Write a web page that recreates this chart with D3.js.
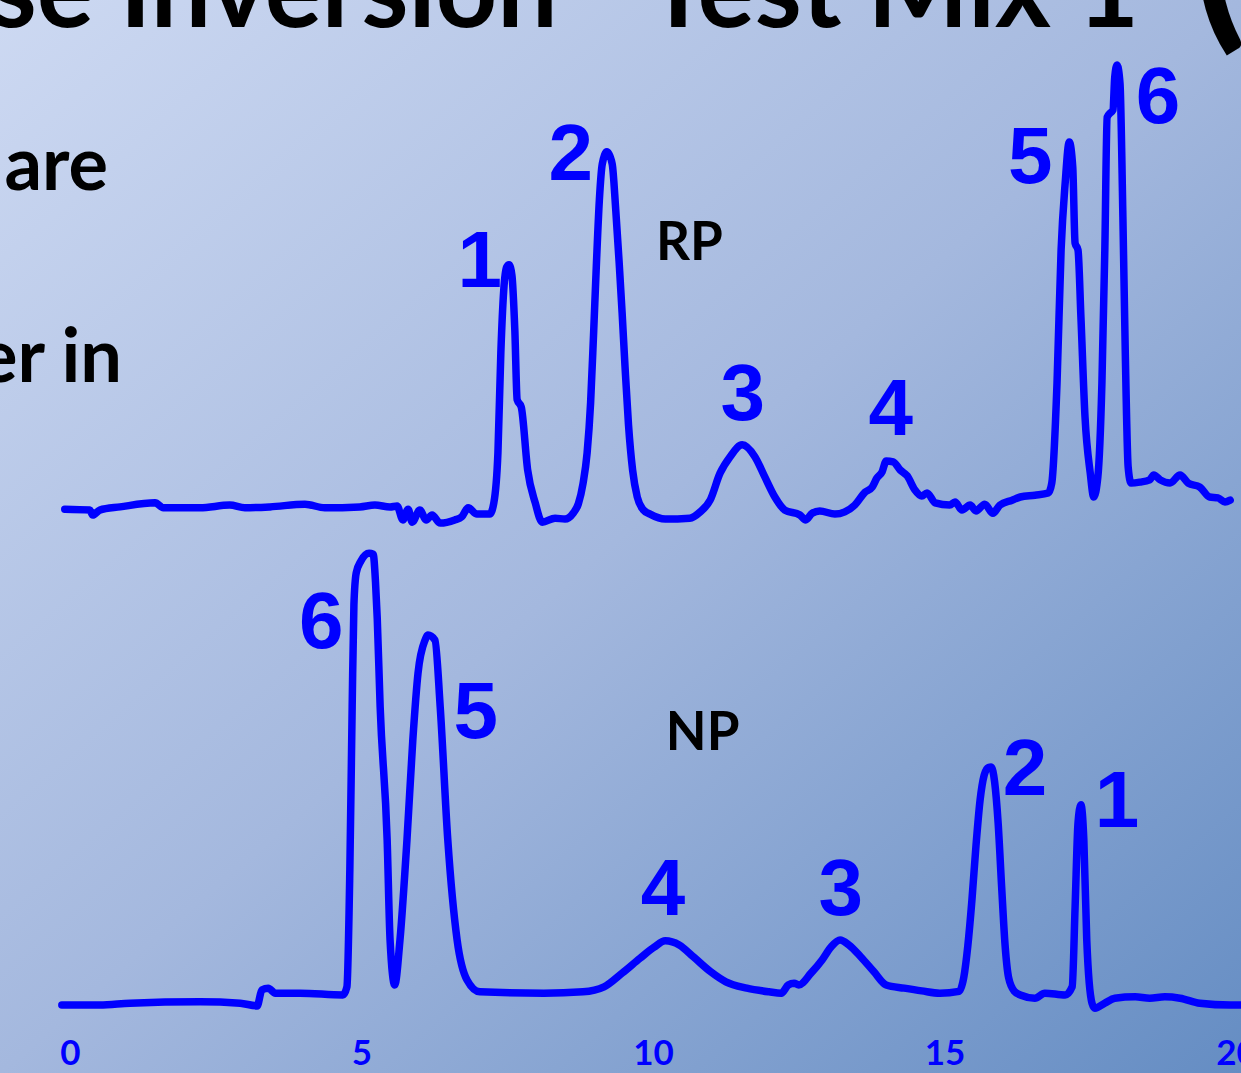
<!DOCTYPE html>
<html>
<meta charset="utf-8">
<style>
body { margin: 0; overflow: hidden; }
.trace { fill: none; stroke: #0000ff; stroke-width: 7.5; stroke-linejoin: round; stroke-linecap: round; }
.peak { font: bold 80px "Liberation Sans", Arial, sans-serif; fill: #0000ff; text-anchor: middle; }
.mode { font: bold 53px Lato, sans-serif; fill: #000; }
.slide { font: bold 74px Lato, sans-serif; fill: #000; text-anchor: end; }
.axis text { font: bold 35px Lato, sans-serif; fill: #0000ff; }
.axis path, .axis line { display: none; }
</style>
<body>
<div id="chart"></div>
<script src="https://d3js.org/d3.v7.min.js"></script>
<script>

// retention time (min), detector signal (% of tallest peak)
var rpTrace = [[-0.09,1.3],[0.34,1.1],[0.39,0],[0.51,1.1],[0.86,1.8],[1.46,2.7],[1.60,1.6],[2.23,1.6],
  [2.74,2.2],[3.00,1.6],[3.43,1.8],[4.03,2.4],[4.37,1.6],[4.97,1.8],[5.23,2.2],[5.49,1.8],[5.61,2.0],
  [5.71,-1.1],[5.80,1.3],[5.87,-1.6],[6.00,1.1],[6.11,-1.1],[6.21,0],[6.35,-1.8],[6.60,-1.1],[6.72,-0.4],
  [6.83,1.6],[6.98,0.2],[7.20,0.2],[7.27,2.7],[7.34,13.8],[7.39,36.0],[7.44,50.0],[7.49,55.1],[7.53,55.6],
  [7.58,53.3],[7.63,41.1],[7.67,25.6],[7.74,24.0],[7.85,10.0],[7.98,2.7],[8.10,-1.6],[8.32,-0.7],[8.49,-0.9],
  [8.63,0.4],[8.72,2.5],[8.80,7.0],[8.87,13.8],[8.93,25.0],[8.98,40.0],[9.03,56.0],[9.08,70.0],[9.13,78.0],
  [9.21,80.7],[9.30,78.0],[9.36,68.0],[9.42,56.0],[9.47,45.0],[9.52,33.0],[9.58,20.0],[9.65,10.0],[9.73,4.0],
  [9.83,1.2],[9.95,0.2],[10.21,-0.9],
  [10.63,-0.7],[10.81,0.7],[10.98,3.3],[11.15,9.3],[11.32,12.9],[11.53,15.6],[11.75,12.9],[11.92,8.4],
  [12.09,4.0],[12.26,1.1],[12.52,0],[12.62,-1.1],[12.73,0.4],[12.86,0.9],[13.12,0.2],[13.29,0.7],[13.46,2.2],
  [13.64,5.1],[13.76,6.2],[13.84,8.2],[13.93,9.6],[14.00,12.0],[14.12,11.8],[14.24,10.0],[14.36,8.7],
  [14.49,5.6],[14.61,4.2],[14.70,4.9],[14.84,2.7],[15.09,2.2],[15.18,2.9],[15.30,1.1],[15.44,2.2],[15.54,0.9],
  [15.69,2.4],[15.83,0.4],[15.95,2.2],[16.16,3.3],[16.30,4.0],[16.55,4.4],[16.78,4.9],[16.84,7.1],[16.93,29.3],
  [17.00,58.9],[17.07,73.8],[17.14,82.9],[17.20,77.3],[17.24,60.4],[17.29,58.9],[17.34,44.0],[17.41,21.8],
  [17.50,9.3],[17.56,4.0],[17.63,8.4],[17.70,29.3],[17.75,58.9],[17.79,88.4],[17.84,89.3],[17.89,90.0],
  [17.92,97.3],[17.96,100],[18.01,96.0],[18.06,66.2],[18.10,36.7],[18.15,10.7],[18.20,7.1],[18.35,7.3],
  [18.52,7.8],[18.59,8.9],[18.70,7.8],[18.87,7.1],[19.04,8.9],[19.18,7.1],[19.38,6.2],[19.55,4.0],
  [19.69,3.8],[19.81,2.9],[19.90,3.3]];

var npTrace = [[-0.14,0],[0.51,0],[1.03,0.4],[2.23,0.7],[2.92,0.4],[3.21,-0.2],[3.29,3.3],[3.40,3.7],
  [3.52,2.6],[3.95,2.6],[4.68,2.2],[4.75,4.0],[4.80,29.7],[4.84,65.5],[4.87,88.0],[4.91,95.0],[4.99,97.6],
  [5.13,99.3],[5.20,99.1],[5.24,93.0],[5.27,85.0],[5.32,65.5],[5.44,36.3],[5.49,14.3],[5.57,4.4],[5.66,14.3],
  [5.78,36.3],[5.88,58.2],[5.97,73.0],[6.09,80.2],[6.14,81.3],[6.26,80.2],[6.35,65.5],[6.48,36.3],[6.64,14.3],
  [6.81,5.5],[7.03,2.9],[8.13,2.6],[8.80,2.9],[9.16,4.0],[9.47,7.0],[9.78,10.3],[10.02,12.7],[10.21,14.1],
  [10.45,13.2],[10.70,10.5],[10.99,7.3],[11.25,5.1],[11.61,3.7],[11.99,2.9],[12.20,2.6],[12.32,4.4],
  [12.42,4.8],[12.50,4.4],[12.71,7.0],[12.90,9.9],[13.05,12.7],[13.21,14.3],[13.36,13.2],[13.57,10.5],
  [13.79,7.3],[14.00,4.4],[14.31,3.7],[14.61,3.1],[14.92,2.6],[15.25,3.0],[15.33,6.0],[15.40,13.0],
  [15.47,23.0],[15.54,35.0],[15.61,45.0],[15.68,50.5],[15.75,52.2],[15.80,52.3],[15.86,49.0],[15.92,40.0],
  [15.98,26.0],[16.04,13.0],[16.10,6.0],[16.20,3.0],[16.30,2.2],[16.55,1.5],[16.72,2.6],[17.07,2.2],
  [17.19,4.0],[17.24,21.5],[17.29,40.0],
  [17.34,44.0],[17.39,36.3],[17.44,14.3],[17.53,0.4],[17.58,-0.7],[17.75,0.4],[17.92,1.5],[18.27,1.8],
  [18.52,1.5],[18.78,1.8],[19.04,1.5],[19.38,0.4],[19.90,0],[20.09,0]];

// peak numbers: label, time, height of label baseline
var peakNames = ["1", "2", "3", "4", "5", "6"];
var rpLabelTime = [7.03, 8.59, 11.54, 14.08, 16.47, 18.66];
var rpLabelSignal = [50.7, 74.4, 21.1, 17.8, 73.8, 87.1];
var npLabelTime = [17.96, 16.38, 13.22, 10.17, 6.96, 4.31];
var npLabelSignal = [39.1, 46.2, 19.8, 19.8, 58.7, 78.5];

var tickValues = [0, 5, 10, 15, 20];

var width = 1241, height = 1073;

var svg = d3.select("#chart").append("svg")
    .attr("width", width)
    .attr("height", height);

var grad = svg.append("defs").append("linearGradient")
    .attr("id", "bg")
    .attr("x1", 0).attr("y1", 0).attr("x2", 1).attr("y2", 1);
grad.append("stop").attr("offset", "0%").attr("stop-color", "#cdd9f2");
grad.append("stop").attr("offset", "50%").attr("stop-color", "#a4b8de");
grad.append("stop").attr("offset", "100%").attr("stop-color", "#658dc3");

svg.append("rect")
    .attr("width", width)
    .attr("height", height)
    .attr("fill", "url(#bg)");

var x = d3.scaleLinear().domain([0, 20]).range([70, 1236]);
var yRP = d3.scaleLinear().domain([0, 100]).range([515, 65]);
var yNP = d3.scaleLinear().domain([0, 100]).range([1005, 550]);

// slide text around the chart
svg.append("text")
    .attr("class", "slide")
    .attr("x", 1139).attr("y", 27)
    .style("font-size", "107px")
    .text("Phase Inversion - Test Mix 1");
svg.append("text")
    .attr("x", 1192).attr("y", 24)
    .style("font", "bold 200px Lato, sans-serif")
    .text("(");
svg.append("text").attr("class", "slide").attr("x", 108).attr("y", 190).text("are");
svg.append("text").attr("class", "slide").attr("x", 122).attr("y", 382).text("er in");

var lineRP = d3.line()
    .x(function(d) { return x(d[0]); })
    .y(function(d) { return yRP(d[1]); })
    .curve(d3.curveMonotoneX);

var lineNP = d3.line()
    .x(function(d) { return x(d[0]); })
    .y(function(d) { return yNP(d[1]); })
    .curve(d3.curveMonotoneX);

svg.append("path").datum(rpTrace).attr("class", "trace").attr("d", lineRP);
svg.append("path").datum(npTrace).attr("class", "trace").attr("d", lineNP);

svg.selectAll(".peak.rp")
    .data(peakNames)
  .enter().append("text")
    .attr("class", "peak rp")
    .attr("x", function(d, i) { return x(rpLabelTime[i]); })
    .attr("y", function(d, i) { return yRP(rpLabelSignal[i]); })
    .text(function(d) { return d; });

svg.selectAll(".peak.np")
    .data(peakNames)
  .enter().append("text")
    .attr("class", "peak np")
    .attr("x", function(d, i) { return x(npLabelTime[i]); })
    .attr("y", function(d, i) { return yNP(npLabelSignal[i]); })
    .text(function(d) { return d; });

svg.append("text").attr("class", "mode").attr("x", x(10.05)).attr("y", yRP(56.7)).text("RP");
svg.append("text").attr("class", "mode").attr("x", x(10.22)).attr("y", yNP(56.0)).text("NP");

var xAxis = d3.axisBottom(x)
    .tickValues(tickValues)
    .tickSize(0)
    .tickPadding(0);

svg.append("g")
    .attr("class", "x axis")
    .attr("transform", "translate(0,1065)")
    .call(xAxis)
    .selectAll("text")
    .attr("y", 0)
    .attr("dy", 0);

</script>
</body>
</html>
